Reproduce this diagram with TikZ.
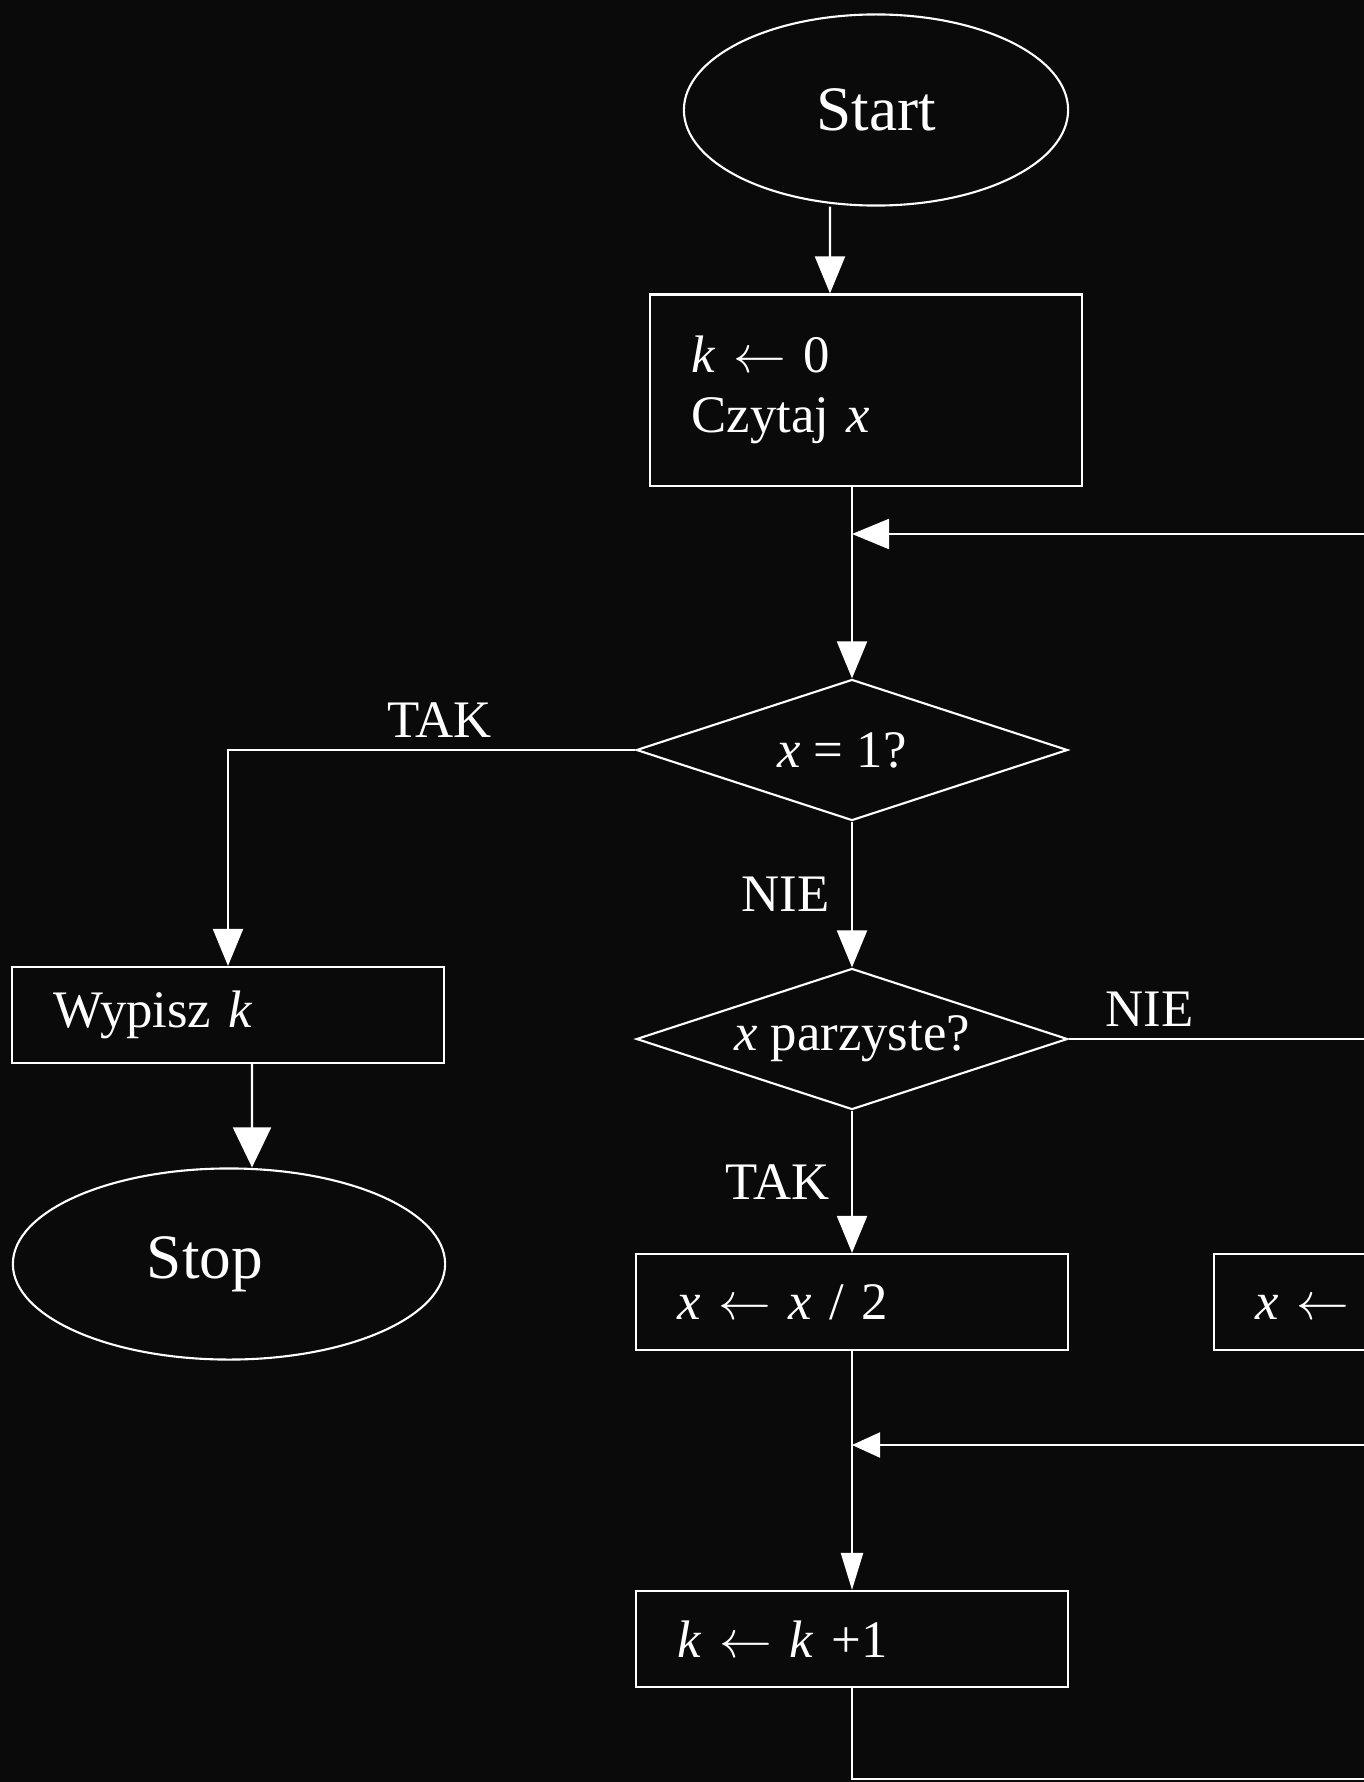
\documentclass[tikz,border=0pt]{standalone}
\usepackage{fix-cm}
\usepackage{fontspec}
\setmainfont{Liberation Serif}
\usetikzlibrary{shapes.geometric,arrows.meta}
\definecolor{tlo}{HTML}{0A0A0A}

\begin{document}
\begin{tikzpicture}[x=0.01cm,y=-0.01cm,line width=0.6pt,
    txt/.style={font=\fontsize{15pt}{17pt}\selectfont,text=white},
    term/.style={draw=white,ellipse,minimum width=3.84cm,minimum height=1.91cm,
      font=\fontsize{18pt}{22pt}\selectfont,text=white},
    opbox/.style={draw=white,rectangle,minimum height=0.96cm,text width=3.49cm,
      inner xsep=0.41cm,align=left,txt},
    ifbox/.style={draw=white,diamond,aspect=3.06,minimum width=4.31cm,
      minimum height=1.41cm,inner sep=0pt,txt},
    arr/.style={draw=white,-{Triangle[length=0.37cm,width=0.3cm]}},
    wire/.style={draw=white}]
  \useasboundingbox (0,0) rectangle (1364,1782);
  \clip (0,0) rectangle (1364,1782);
  \fill[tlo] (0,0) rectangle (1364,1782);

  % bloki
  \node[term] (start) at (876,110) {Start};
  \node[opbox,minimum height=1.91cm] (init) at (866,390) {\textit{k} $\leftarrow$ 0\\Czytaj \textit{x}\\[-0.2cm]};
  \node[ifbox] (czy1) at (852,750) {\hspace*{-0.2cm}\textit{x} = 1?};
  \node[ifbox] (parz) at (852,1039) {\textit{x} parzyste?};
  \node[opbox] (wyp) at (228,1015) {Wypisz \textit{k}};
  \node[term,minimum width=4.32cm] (stop) at (229,1264) {\hspace*{-0.48cm}\raisebox{-0.08cm}{Stop}};
  \node[opbox] (pol) at (852,1302) {\textit{x} $\leftarrow$ \textit{x} / 2};
  \node[opbox] (trz) at (1430,1302) {\textit{x} $\leftarrow$ 3\textit{x} + 1};
  \node[opbox] (inc) at (852,1639) {\textit{k} $\leftarrow$ \textit{k} +1};

  % punkty wezlowe
  \coordinate (j1) at (852,534);
  \coordinate (r1) at (1380,534);
  \coordinate (r4) at (1380,1039);
  \coordinate (j2) at (852,1445);
  \coordinate (r2) at (1380,1445);
  \coordinate (dol) at (852,1779);
  \coordinate (r3) at (1380,1779);

  % polaczenia
  \draw[arr] ([xshift=-0.46cm]start.south) -- ([xshift=-0.36cm]init.north);
  \draw[wire] (init.south -| czy1.north) -- (j1);
  \draw[arr] (j1) -- (czy1.north);
  \draw[arr] (r1) -- (j1);
  \draw[arr] (czy1.west) -| node[pos=0.24,above,txt] {TAK} (wyp.north);
  \draw[arr] (czy1.south) -- node[left=0.1cm,txt] {NIE} (parz.north);
  \draw[wire] (parz.east) -- node[pos=0.26,above,txt] {NIE} (r4);
  \draw[arr] (parz.south) -- node[left=0.1cm,txt] {TAK} (pol.north);
  \draw[arr,-{Triangle[length=0.4cm,width=0.38cm]}] ([xshift=0.24cm]wyp.south) -- ([xshift=0.23cm]stop.north);
  \draw[wire] (pol.south) -- (j2);
  \draw[arr,-{Triangle[length=0.37cm,width=0.22cm]}] (j2) -- (inc.north);
  \draw[arr,-{Triangle[length=0.28cm,width=0.25cm]}] (r2) -- (j2);
  \draw[wire] (inc.south) -- (dol) -- (r3);
\end{tikzpicture}
\end{document}
